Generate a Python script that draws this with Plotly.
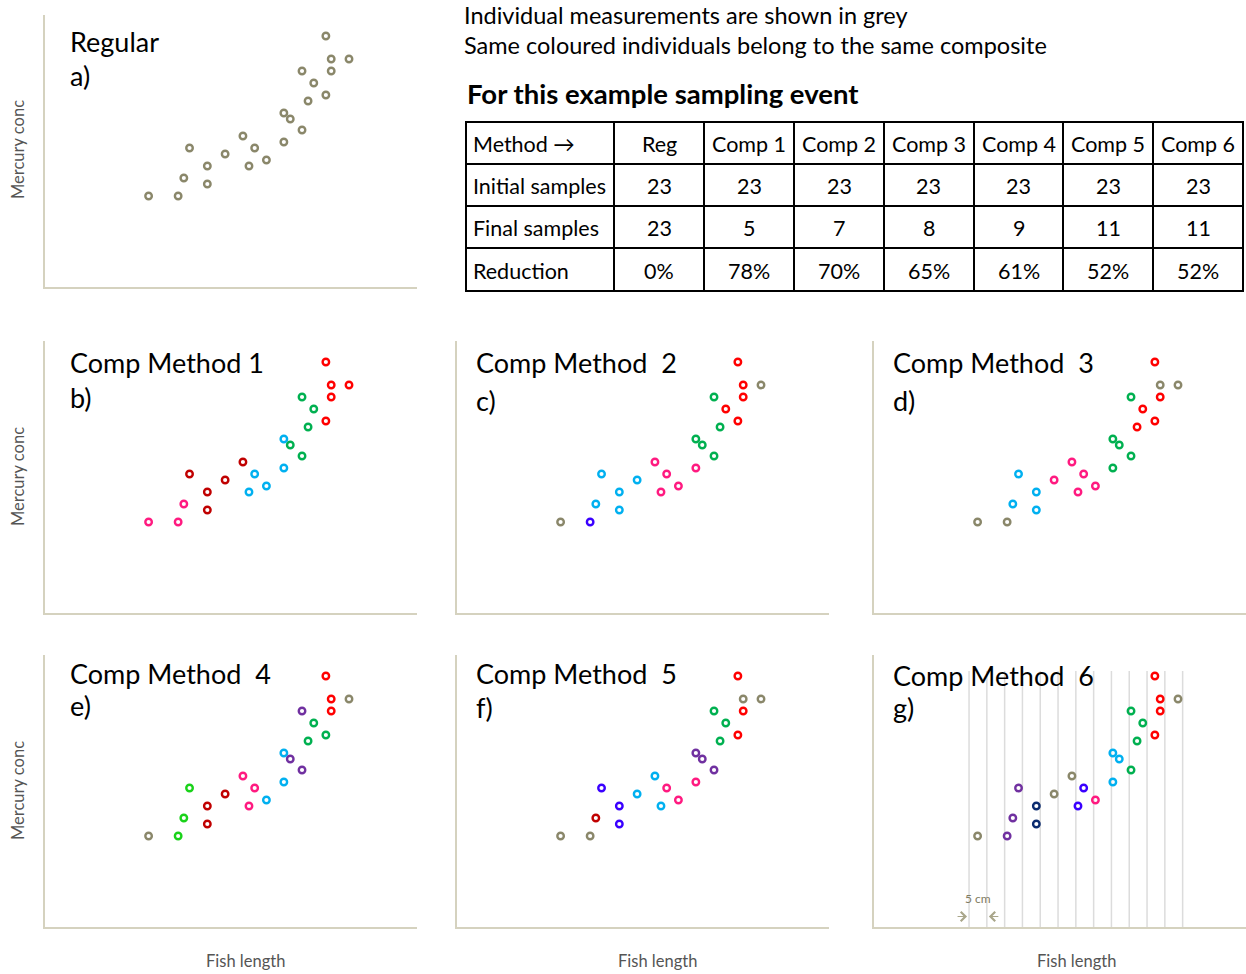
import plotly.graph_objects as go

# ---------------------------------------------------------------------------
# Data: one sampling event of 23 fish
# ---------------------------------------------------------------------------
fish_length_cm = [32.4, 40.7, 42.3, 43.9, 48.9, 48.9, 53.9, 58.9, 60.6, 62.2, 65.5, 70.4,
                  70.4, 72.2, 75.5, 75.5, 77.2, 78.8, 82.2, 82.2, 83.7, 83.7, 88.7]
mercury_conc = [0.91, 0.91, 1.09, 1.39, 1.21, 1.03, 1.33, 1.51, 1.21, 1.39, 1.27, 1.45,
                1.74, 1.68, 1.57, 2.16, 1.86, 2.04, 1.92, 2.51, 2.28, 2.16, 2.28]

# Composite membership of every fish under each method ("grey" = measured individually)
regular = ["grey", "grey", "grey", "grey", "grey", "grey", "grey", "grey", "grey", "grey", "grey", "grey",
           "grey", "grey", "grey", "grey", "grey", "grey", "grey", "grey", "grey", "grey", "grey"]
comp1 = ["pink", "pink", "pink", "darkred", "darkred", "darkred", "darkred", "darkred", "cyan", "cyan",
         "cyan", "cyan", "cyan", "green", "green", "green", "green", "green", "red", "red", "red", "red", "red"]
comp2 = ["grey", "violet", "cyan", "cyan", "cyan", "cyan", "cyan", "pink", "pink", "pink", "pink", "pink",
         "green", "green", "green", "green", "green", "red", "red", "red", "red", "red", "grey"]
comp3 = ["grey", "grey", "cyan", "cyan", "cyan", "cyan", "pink", "pink", "pink", "pink", "pink", "green",
         "green", "green", "green", "green", "red", "red", "red", "red", "grey", "red", "grey"]
comp4 = ["grey", "lime", "lime", "lime", "darkred", "darkred", "darkred", "pink", "pink", "pink", "cyan",
         "cyan", "cyan", "purple", "purple", "purple", "green", "green", "green", "red", "red", "red", "grey"]
comp5 = ["grey", "grey", "darkred", "violet", "violet", "violet", "cyan", "cyan", "cyan", "pink", "pink",
         "pink", "purple", "purple", "purple", "green", "green", "green", "red", "red", "grey", "red", "grey"]
comp6 = ["grey", "purple", "purple", "purple", "navy", "navy", "grey", "grey", "violet", "violet", "pink",
         "cyan", "cyan", "cyan", "green", "green", "green", "green", "red", "red", "red", "red", "grey"]

# 5 cm length classes used by method 6
length_class_edges = [30, 35, 40, 45, 50, 55, 60, 65, 70, 75, 80, 85, 90]

# Summary table
table_header = ["Method \u2192", "Reg", "Comp 1", "Comp 2", "Comp 3", "Comp 4", "Comp 5", "Comp 6"]
row_labels = ["Initial samples", "Final samples", "Reduction"]
initial_samples = [23, 23, 23, 23, 23, 23, 23]
final_samples = [23, 5, 7, 8, 9, 11, 11]
reduction = ["0%", "78%", "70%", "65%", "61%", "52%", "52%"]

# ---------------------------------------------------------------------------
# Styling
# ---------------------------------------------------------------------------
PALETTE = {
    "grey": "#8a876a", "pink": "#ff1a80", "darkred": "#c00000", "cyan": "#00b0f0",
    "green": "#00b050", "red": "#ff0000", "violet": "#3a00ff", "purple": "#7030a0",
    "lime": "#19d219", "navy": "#0a2a6e",
}
FONT = "Lato"
W, H = 1246, 974
AXIS_COLOR = "#d5d2bf"
LABEL_COLOR = "#555555"
X_RANGE = [3.3, 107.8]
Y_RANGE = [0, 2.72]
TITLE_SIZE = 27

# panel: (title, letter, membership, left px, top px, text left px, title baseline, letter baseline)
panels = [
    ("Regular", "a)", regular, 45, 15, 68, 52, 86),
    ("Comp Method 1", "b)", comp1, 45, 341, 68, 373, 408),
    ("Comp Method  2", "c)", comp2, 457, 341, 474, 373, 411),
    ("Comp Method  3", "d)", comp3, 874, 341, 891, 373, 411),
    ("Comp Method  4", "e)", comp4, 45, 655, 68, 684, 716),
    ("Comp Method  5", "f)", comp5, 457, 655, 474, 684, 718),
    ("Comp Method  6", "g)", comp6, 874, 655, 891, 686, 718),
]
PANEL_W, PANEL_H = 372, 272


def px_x(x):
    return x / W


def px_y(y):
    return 1 - y / H


def text_at(text, x, y, size, color="black", xanchor="left", **kw):
    return dict(text=text, xref="paper", yref="paper", x=px_x(x), y=px_y(y), xanchor=xanchor,
                yanchor="middle", showarrow=False, font=dict(family=FONT, size=size, color=color), **kw)


fig = go.Figure()
annotations = []
shapes = []

for i, (title, letter, groups, left, top, tx, base_t, base_l) in enumerate(panels, start=1):
    sfx = "" if i == 1 else str(i)
    fig.add_trace(go.Scatter(
        x=fish_length_cm, y=mercury_conc, mode="markers",
        xaxis="x" + sfx, yaxis="y" + sfx, hoverinfo="skip",
        marker=dict(symbol="circle-open", size=6.5,
                    color=[PALETTE[g] for g in groups], line=dict(width=2.4)),
    ))
    axis_common = dict(showline=True, linecolor=AXIS_COLOR, linewidth=2, showgrid=False,
                       zeroline=False, showticklabels=False, ticks="", fixedrange=True)
    fig.update_layout(**{
        "xaxis" + sfx: dict(domain=[px_x(left), px_x(left + PANEL_W)], range=X_RANGE,
                            anchor="y" + sfx, **axis_common),
        "yaxis" + sfx: dict(domain=[px_y(top + PANEL_H), px_y(top)], range=Y_RANGE,
                            anchor="x" + sfx, **axis_common),
    })
    annotations.append(text_at(title, tx, base_t - 0.39 * TITLE_SIZE, TITLE_SIZE))
    annotations.append(text_at(letter, tx, base_l - 0.39 * TITLE_SIZE, TITLE_SIZE))

# axis titles
for yc in (150, 477, 791):
    annotations.append(text_at("Mercury conc", 18, yc, 16.5, LABEL_COLOR, xanchor="center", textangle=-90))
for xc in (245, 657, 1076):
    annotations.append(text_at("Fish length", xc, 961, 16.5, LABEL_COLOR, xanchor="center"))

# length classes of method 6
for edge in length_class_edges:
    shapes.append(dict(type="line", xref="x7", yref="y7", x0=edge, x1=edge, y0=0, y1=2.56,
                       layer="below", line=dict(color="#dcdcdc", width=1.5)))

annotations.append(dict(text="5 cm", xref="x7", yref="y7", x=32.5, y=0.29, showarrow=False,
                        font=dict(family=FONT, size=12, color="#7f7c62")))
annotations.append(dict(text="", xref="x7", yref="y7", x=length_class_edges[0], y=0.105, ax=-13, ay=0,
                        showarrow=True, arrowhead=4, arrowsize=1.7, arrowwidth=1.1, standoff=2,
                        arrowcolor="#a9a68a"))
annotations.append(dict(text="", xref="x7", yref="y7", x=length_class_edges[1], y=0.105, ax=13, ay=0,
                        showarrow=True, arrowhead=4, arrowsize=1.7, arrowwidth=1.1, standoff=2,
                        arrowcolor="#a9a68a"))

# notes above the table
annotations.append(text_at("Individual measurements are shown in grey", 462, 15, 23.5))
annotations.append(text_at("Same coloured individuals belong to the same composite", 462, 45, 23.5))
annotations.append(text_at("<b>For this example sampling event</b>", 465, 93, 27.5))

# summary table: grid and cell text
col_edges = [466, 614, 704, 794, 884, 974, 1063, 1153, 1243]
row_edges = [122, 164, 206, 248, 291]
for xe in col_edges:
    shapes.append(dict(type="line", xref="paper", yref="paper", x0=px_x(xe), x1=px_x(xe),
                       y0=px_y(row_edges[0] - 1), y1=px_y(row_edges[-1] + 1),
                       line=dict(color="black", width=2)))
for ye in row_edges:
    shapes.append(dict(type="line", xref="paper", yref="paper", x0=px_x(col_edges[0] - 1),
                       x1=px_x(col_edges[-1] + 1), y0=px_y(ye), y1=px_y(ye),
                       line=dict(color="black", width=2)))

table_rows = [table_header,
              [row_labels[0]] + initial_samples,
              [row_labels[1]] + final_samples,
              [row_labels[2]] + reduction]
for r, row in enumerate(table_rows):
    yc = (row_edges[r] + row_edges[r + 1]) / 2 + 1
    for c, val in enumerate(row):
        if c == 0:
            annotations.append(text_at(str(val), col_edges[0] + 5, yc, 21.5))
        else:
            annotations.append(text_at(str(val), (col_edges[c] + col_edges[c + 1]) / 2, yc, 21.5,
                                       xanchor="center"))

fig.update_layout(width=W, height=H, margin=dict(l=0, r=0, t=0, b=0), showlegend=False,
                  paper_bgcolor="white", plot_bgcolor="white",
                  annotations=annotations, shapes=shapes)

fig.write_html("out.html")
